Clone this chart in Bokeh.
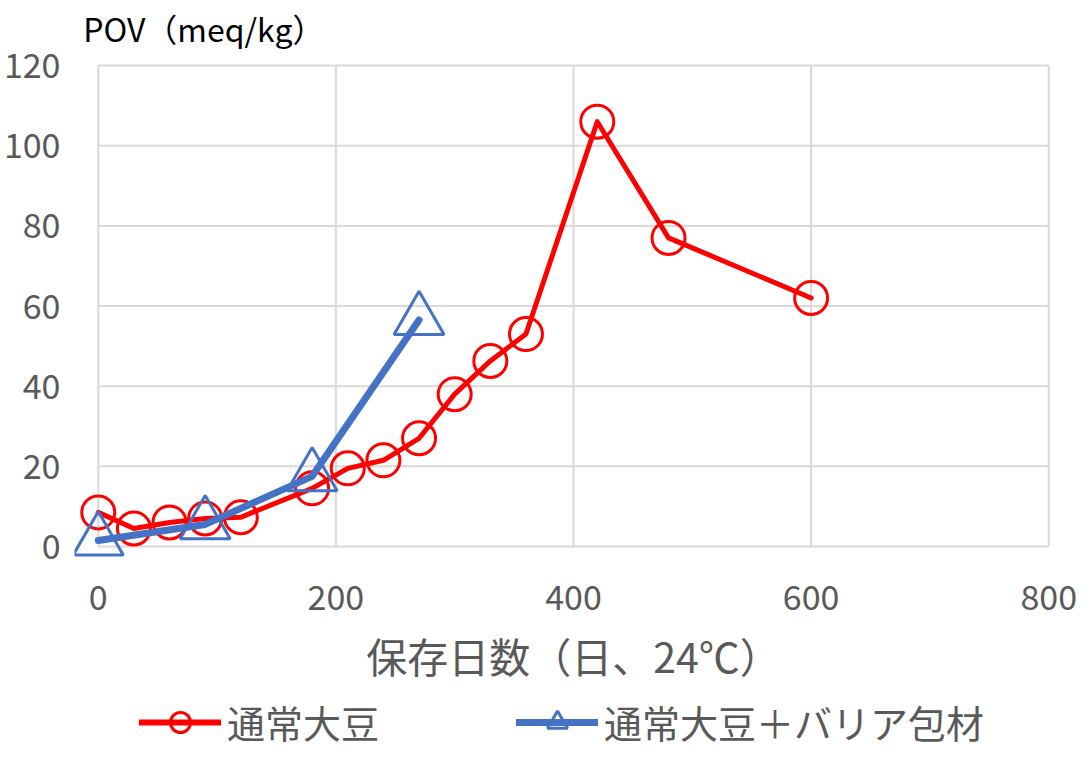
from bokeh.plotting import figure
from bokeh.models import Range1d, FixedTicker, Legend, LegendItem, Label
from bokeh.layouts import column
from bokeh.embed import file_html
from bokeh.resources import INLINE

# data
days_normal = [0, 30, 60, 90, 120, 180, 210, 240, 270, 300, 330, 360, 420, 480, 600]
pov_normal = [8.5, 4.5, 6.0, 7.0, 7.3, 14.5, 19.5, 21.5, 27.0, 38.0, 46.3, 53.0, 106.0, 77.0, 62.0]
days_barrier = [0, 90, 180, 270]
pov_barrier = [1.5, 5.5, 17.5, 56.5]
x_ticks = [0, 200, 400, 600, 800]
y_ticks = [0, 20, 40, 60, 80, 100, 120]
name_normal = "通常大豆"
name_barrier = "通常大豆＋バリア包材"
x_title = "保存日数（日、24℃）"
y_title = "POV（meq/kg）"

FONT = "Noto Sans CJK JP"
GRAY = "#595959"
GRID = "#D9D9D9"
RED = "#FF0000"
BLUE = "#4472C4"

p = figure(width=1088, height=690, output_backend="svg", toolbar_location=None,
           x_range=Range1d(-20, 820), y_range=Range1d(-6, 133),
           min_border_left=74, min_border_right=16, min_border_top=13, min_border_bottom=120)
p.outline_line_color = None
p.background_fill_color = "white"
p.xgrid.visible = False
p.ygrid.visible = False

for ax in (p.xaxis[0], p.yaxis[0]):
    ax.axis_line_color = None
    ax.major_tick_line_color = None
    ax.minor_tick_line_color = None
    ax.major_label_text_font = FONT
    ax.major_label_text_color = GRAY
    ax.major_label_text_font_size = "34px"

p.xaxis[0].ticker = FixedTicker(ticks=x_ticks)
p.yaxis[0].ticker = FixedTicker(ticks=y_ticks)
p.xaxis[0].major_label_standoff = 8
p.yaxis[0].major_label_standoff = 8
p.xaxis[0].axis_label = x_title
p.xaxis[0].axis_label_text_font = FONT
p.xaxis[0].axis_label_text_font_style = "normal"
p.xaxis[0].axis_label_text_color = GRAY
p.xaxis[0].axis_label_text_font_size = "41px"
p.xaxis[0].axis_label_standoff = 12

# gridlines limited to the axis extent (0..800, 0..120)
nx, ny = len(x_ticks), len(y_ticks)
p.segment(x0=x_ticks, y0=[y_ticks[0]] * nx, x1=x_ticks, y1=[y_ticks[-1]] * nx,
          line_color=GRID, line_width=2)
p.segment(x0=[x_ticks[0]] * ny, y0=y_ticks, x1=[x_ticks[-1]] * ny, y1=y_ticks,
          line_color=GRID, line_width=2)

r_line = p.line(days_normal, pov_normal, line_color=RED, line_width=5,
                line_cap="round", line_join="round")
r_mark = p.scatter(days_normal, pov_normal, marker="circle", size=33,
                   fill_color=None, line_color=RED, line_width=3)
b_line = p.line(days_barrier, pov_barrier, line_color=BLUE, line_width=7,
                line_cap="round", line_join="round")
b_mark = p.scatter(days_barrier, pov_barrier, marker="triangle", size=50,
                   fill_color=None, line_color=BLUE, line_width=3)

ylab = Label(x=-12.6, y=129.4, text=y_title, text_font=FONT, text_font_size="32px",
             text_color="black", text_baseline="middle", text_align="left")
p.add_layout(ylab)

# legend strip
q = figure(width=1088, height=90, output_backend="svg", toolbar_location=None,
           x_range=Range1d(0, 1), y_range=Range1d(0, 1),
           x_axis_location=None, y_axis_location=None,
           min_border_left=0, min_border_right=0, min_border_top=0, min_border_bottom=0)
q.outline_line_color = None
q.xgrid.visible = False
q.ygrid.visible = False
hidden_x = [-5, -4]
hidden_y = [-5, -5]
lr_line = q.line(hidden_x, hidden_y, line_color=RED, line_width=6, line_cap="round")
lr_mark = q.scatter(hidden_x, hidden_y, marker="circle", size=33, fill_color=None,
                    line_color=RED, line_width=3)
lb_line = q.line(hidden_x, hidden_y, line_color=BLUE, line_width=7, line_cap="round")
lb_mark = q.scatter(hidden_x, hidden_y, marker="triangle", size=50, fill_color=None,
                    line_color=BLUE, line_width=3)

legend = Legend(items=[LegendItem(label=name_normal, renderers=[lr_line, lr_mark]),
                       LegendItem(label=name_barrier, renderers=[lb_line, lb_mark])],
                orientation="horizontal", location=(65, 31),
                label_text_font=FONT, label_text_font_size="38px", label_text_color=GRAY,
                glyph_width=82, glyph_height=50, label_standoff=6, spacing=137,
                border_line_color=None, background_fill_alpha=0, margin=0, padding=8)
q.add_layout(legend)

open("out.html", "w").write(file_html(column(p, q, spacing=0), INLINE))
